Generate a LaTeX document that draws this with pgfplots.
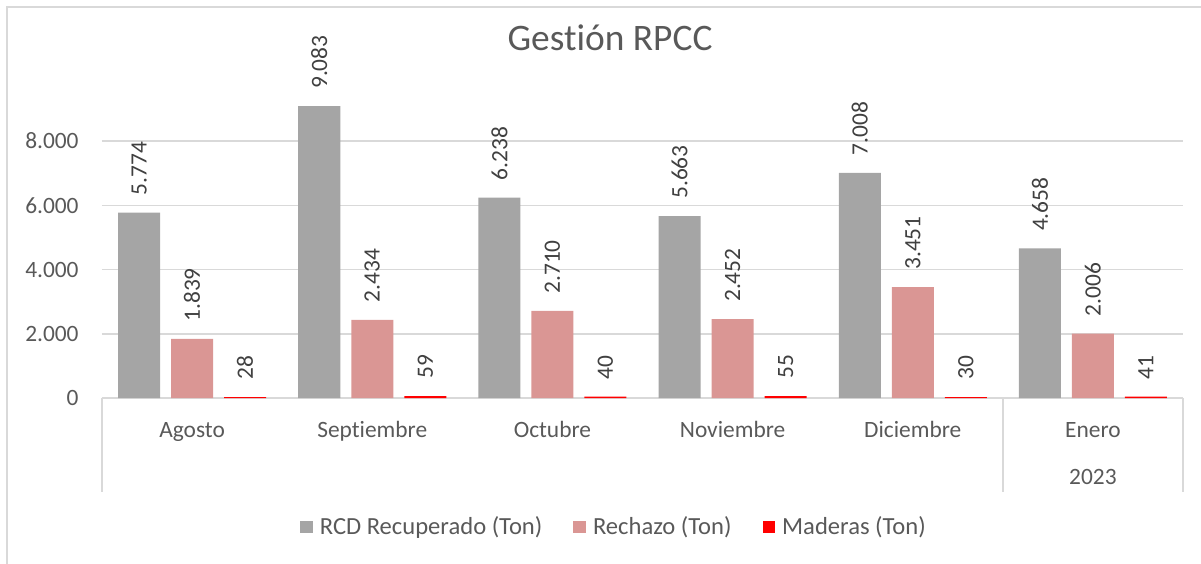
\documentclass[border=0pt]{standalone}
\usepackage{fontspec}
\setmainfont{Carlito}[Ligatures=NoCommon]
\usepackage{pgfplots}
\pgfplotsset{compat=1.18}
\definecolor{cgray}{HTML}{A5A5A5}
\definecolor{cpink}{HTML}{DA9694}
\definecolor{cred}{HTML}{FF0000}
\definecolor{txt}{HTML}{595959}
\definecolor{lbl}{HTML}{404040}
\definecolor{gridc}{HTML}{D9D9D9}
\begin{document}
\begin{tikzpicture}
\path[use as bounding box] (-51pt,-82.5pt) rectangle (549.5pt,199pt);
\draw[gridc, line width=0.7pt] (-47.5pt,-90pt) -- (-47.5pt,195.5pt) -- (560pt,195.5pt);
\begin{axis}[
  at={(0,0)}, anchor=south west,
  scale only axis, width=540.5pt, height=160.625pt,
  clip=false,
  ybar, bar width=21pt,
  xmin=-0.5, xmax=5.5, ymin=0, ymax=10000,
  xtick={0,...,5},
  xticklabels={Agosto,Septiembre,Octubre,Noviembre,Diciembre,Enero},
  ytick={0,2000,4000,6000,8000},
  scaled y ticks=false,
  ymajorgrids, grid style={gridc, line width=0.75pt},
  major tick length=0pt,
  axis line style={draw=none},
  /pgf/number format/fixed,
  /pgf/number format/precision=0,
  /pgf/number format/1000 sep={.},
  /pgf/number format/assume math mode=true,
  tick label style={font=\fontsize{11.7pt}{14pt}\selectfont, text=txt},
  xticklabel style={anchor=base, yshift=-19.5pt, inner sep=0pt},
  yticklabel style={anchor=east, inner sep=0pt, xshift=-11.5pt},
  nodes near coords,
  every node near coord/.append style={rotate=90, anchor=west, font=\fontsize{11.7pt}{14pt}\selectfont, text=lbl, inner xsep=8.5pt, inner ysep=0pt},
  title={Gestión RPCC},
  title style={at={(0.47,1.043)}, anchor=base, font=\fontsize{18.7pt}{22pt}\selectfont, text=txt, inner sep=0pt},
  legend style={at={(0.476,-0.4016)}, anchor=center, draw=none, fill=none, legend columns=3, font=\fontsize{12.3pt}{14pt}\selectfont, text=txt, /tikz/every even column/.append style={column sep=12pt}, nodes={inner xsep=3.5pt}},
  every axis plot post/.append style={legend image code/.code={\fill[##1, draw=none] (0pt,-3.15pt) rectangle (6.3pt,3.15pt);}},
]
\addplot[fill=cgray, draw=none, bar shift=-26.5pt] coordinates {(0,5774) (1,9083) (2,6238) (3,5663) (4,7008) (5,4658)};
\addlegendentry{RCD Recuperado (Ton)}
\addplot[fill=cpink, draw=none, bar shift=0pt] coordinates {(0,1839) (1,2434) (2,2710) (3,2452) (4,3451) (5,2006)};
\addlegendentry{Rechazo (Ton)}
\addplot[fill=cred, draw=none, bar shift=26.5pt] coordinates {(0,28) (1,59) (2,40) (3,55) (4,30) (5,41)};
\addlegendentry{Maderas (Ton)}
\draw[gridc, line width=0.75pt] (axis cs:-0.5,0) -- ([yshift=-47pt]axis cs:-0.5,0);
\draw[gridc, line width=0.75pt] (axis cs:4.5,0) -- ([yshift=-47pt]axis cs:4.5,0);
\draw[gridc, line width=0.75pt] (axis cs:5.5,0) -- ([yshift=-47pt]axis cs:5.5,0);
\node[anchor=base, inner sep=0pt, font=\fontsize{11.7pt}{14pt}\selectfont, text=txt] at ([yshift=-43pt]axis cs:5,0) {2023};
\end{axis}
\end{tikzpicture}
\end{document}
